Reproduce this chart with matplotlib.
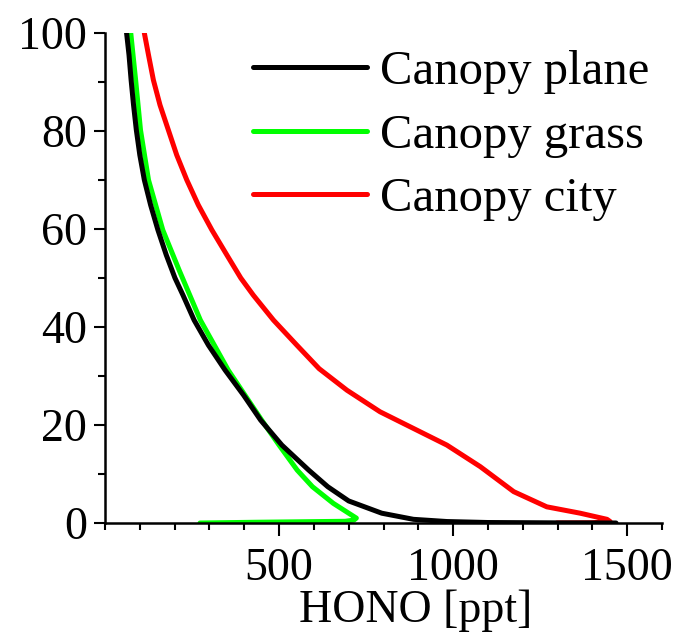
import matplotlib
matplotlib.use('Agg')
import matplotlib.pyplot as plt
from matplotlib.ticker import MultipleLocator

# height [m] and HONO [ppt]
z_plane = [100, 95.5, 90.4, 85.3, 80.2, 75.1, 70, 64.9, 59.8, 54.7, 50, 46.5, 41.4, 36.3,
           31.2, 26.1, 21.0, 15.9, 10.8, 7.4, 4.5, 2.0, 0.75, 0.3, 0.1, 0.03, 0.0]
hono_plane = [62, 69, 75, 82, 90, 100, 113, 131, 152, 176, 201, 224, 256, 297,
              345, 398, 447, 508, 585, 640, 700, 795, 886, 982, 1100, 1300, 1468]

z_grass = [100, 90.4, 80.2, 70, 59.8, 51.6, 41.4, 31.2, 26.1, 21.0, 15.9, 10.8, 7.4,
           4.0, 2.0, 1.0, 0.6, 0.35, 0.25, 0.15, 0.0]
hono_grass = [74, 88, 102, 125, 166, 213, 274, 354, 402, 450, 500, 552, 596,
              656, 700, 722, 715, 690, 560, 430, 273]

z_city = [100, 95.5, 90.4, 85.3, 80.2, 75.1, 70, 64.9, 59.8, 54.7, 50, 46.5, 41.4, 36.3,
          31.5, 27.1, 22.7, 19.3, 15.9, 11.5, 6.4, 3.3, 2.0, 0.75, 0.3, 0.05, 0.0]
hono_city = [113, 125, 139, 158, 182, 206, 235, 268, 307, 350, 390, 426, 484, 551,
             615, 695, 790, 886, 982, 1078, 1174, 1269, 1365, 1442, 1451, 1400, 1298]

labels = ['Canopy plane', 'Canopy grass', 'Canopy city']

plt.rcParams['font.family'] = 'Liberation Serif'

fig = plt.figure(figsize=(6.88, 6.37), dpi=100)
ax = fig.add_axes([105/688., 1-523/637., 557/688., 490/637.])

kw = dict(lw=3.6, solid_capstyle='round', solid_joinstyle='round')
ax.plot(hono_plane, z_plane, color='black', label=labels[0], zorder=3, **kw)
ax.plot(hono_grass, z_grass, color='#00ff00', label=labels[1], zorder=2, **kw)
ax.plot(hono_city, z_city, color='#ff0000', label=labels[2], zorder=2, **kw)

ax.set_xlim(0, 1600)
ax.set_ylim(0, 100)
ax.spines['top'].set_visible(False)
ax.spines['right'].set_visible(False)
ax.spines['left'].set_linewidth(1.8)
ax.spines['bottom'].set_linewidth(1.8)

ax.xaxis.set_minor_locator(MultipleLocator(100))
ax.yaxis.set_major_locator(MultipleLocator(20))
ax.yaxis.set_minor_locator(MultipleLocator(10))
ax.set_xticks([500, 1000, 1500])
ax.tick_params(axis='x', which='major', length=9, width=1.5, labelsize=33, pad=9)
ax.tick_params(axis='x', which='minor', length=5, width=1.5)
ax.tick_params(axis='y', which='major', length=8, width=1.5, labelsize=33, pad=5)
ax.tick_params(axis='y', which='minor', length=5, width=1.5)

ax.set_xlabel('HONO [ppt]', fontsize=33)
ax.xaxis.set_label_coords(0.557, -0.136)

leg = ax.legend(loc='upper left', bbox_to_anchor=((253-105)/557., 0.965), frameon=False,
                fontsize=35, handlelength=2.35, handletextpad=0.27, labelspacing=0.4,
                borderpad=0, borderaxespad=0)
for h in leg.get_lines():
    h.set_linewidth(3.6)

fig.savefig('out.png', dpi=100)
